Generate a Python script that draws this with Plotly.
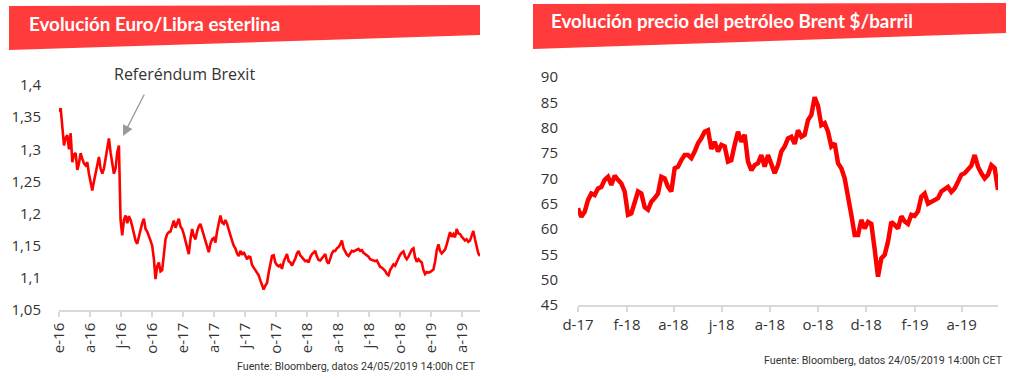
import pandas as pd
import plotly.graph_objects as go

# ---------------- DATA ----------------
# Left chart: Euro / Libra esterlina (GBP in EUR), Jan-2016 .. 24-May-2019
eurgbp_start = "2016-01-01"
eurgbp_end = "2019-05-24"
eurgbp_values = [
    1.358, 1.364, 1.335, 1.306, 1.318, 1.322, 1.300, 1.325, 1.280, 1.292,
    1.294, 1.268, 1.278, 1.294, 1.285, 1.278, 1.275, 1.280, 1.262, 1.248,
    1.236, 1.250, 1.262, 1.275, 1.288, 1.270, 1.262, 1.270, 1.285, 1.305,
    1.317, 1.295, 1.280, 1.262, 1.270, 1.295, 1.306, 1.190, 1.166, 1.190,
    1.197, 1.185, 1.196, 1.190, 1.180, 1.170, 1.158, 1.153, 1.165, 1.178,
    1.185, 1.192, 1.176, 1.172, 1.163, 1.158, 1.150, 1.130, 1.098, 1.118,
    1.124, 1.110, 1.112, 1.140, 1.160, 1.168, 1.171, 1.172, 1.182, 1.189,
    1.178, 1.186, 1.192, 1.180, 1.176, 1.168, 1.158, 1.146, 1.137, 1.160,
    1.176, 1.165, 1.160, 1.172, 1.180, 1.184, 1.175, 1.168, 1.156, 1.147,
    1.140, 1.153, 1.160, 1.162, 1.155, 1.172, 1.185, 1.197, 1.186, 1.184,
    1.190, 1.184, 1.175, 1.164, 1.158, 1.150, 1.146, 1.138, 1.134, 1.142,
    1.136, 1.140, 1.133, 1.129, 1.133, 1.132, 1.120, 1.116, 1.112, 1.108,
    1.104, 1.096, 1.088, 1.082, 1.088, 1.092, 1.108, 1.122, 1.134, 1.135,
    1.124, 1.120, 1.118, 1.120, 1.114, 1.125, 1.132, 1.137, 1.126, 1.124,
    1.119, 1.124, 1.130, 1.138, 1.142, 1.135, 1.132, 1.128, 1.126, 1.127,
    1.124, 1.132, 1.137, 1.139, 1.142, 1.133, 1.128, 1.127, 1.131, 1.135,
    1.137, 1.126, 1.122, 1.130, 1.138, 1.142, 1.142, 1.146, 1.148, 1.152,
    1.158, 1.146, 1.141, 1.136, 1.134, 1.139, 1.142, 1.141, 1.142, 1.144,
    1.145, 1.142, 1.143, 1.139, 1.137, 1.135, 1.133, 1.129, 1.128, 1.126,
    1.126, 1.127, 1.122, 1.117, 1.116, 1.114, 1.111, 1.106, 1.104, 1.112,
    1.117, 1.121, 1.119, 1.125, 1.131, 1.136, 1.139, 1.141, 1.133, 1.129,
    1.133, 1.139, 1.144, 1.146, 1.132, 1.125, 1.129, 1.126, 1.124, 1.112,
    1.106, 1.109, 1.108, 1.109, 1.111, 1.113, 1.125, 1.143, 1.152, 1.142,
    1.138, 1.141, 1.144, 1.152, 1.163, 1.171, 1.164, 1.168, 1.163, 1.176,
    1.169, 1.168, 1.164, 1.160, 1.158, 1.160, 1.156, 1.158, 1.166, 1.173,
    1.160, 1.148, 1.138, 1.134,
]
eurgbp_tickdates = ["2016-01-01", "2016-04-01", "2016-07-01", "2016-10-01",
                    "2017-01-01", "2017-04-01", "2017-07-01", "2017-10-01",
                    "2018-01-01", "2018-04-01", "2018-07-01", "2018-10-01",
                    "2019-01-01", "2019-04-01"]
eurgbp_ticklabels = ["e-16", "a-16", "j-16", "o-16", "e-17", "a-17", "j-17",
                     "o-17", "e-18", "a-18", "j-18", "o-18", "e-19", "a-19"]
eurgbp_yticks = [1.05, 1.1, 1.15, 1.2, 1.25, 1.3, 1.35, 1.4]
eurgbp_yticklabels = ["1,05", "1,1", "1,15", "1,2", "1,25", "1,3", "1,35", "1,4"]

# Right chart: Brent $/barril, Dec-2017 .. May-2019
brent_start = "2017-12-01"
brent_end = "2019-05-17"
brent_values = [
    64.1, 62.4, 63.4, 65.7, 67.0, 66.7, 68.0, 68.3, 69.7, 70.3,
    68.7, 70.5, 69.7, 69.0, 67.4, 62.8, 63.1, 65.1, 67.4, 67.0,
    64.3, 63.8, 65.4, 66.1, 67.0, 70.3, 70.0, 68.3, 67.4, 72.0,
    72.3, 73.6, 74.6, 74.6, 74.0, 75.3, 76.9, 77.9, 79.2, 79.5,
    75.8, 77.2, 75.3, 76.6, 76.3, 73.3, 73.6, 76.6, 79.2, 77.2,
    78.6, 73.3, 71.6, 72.6, 73.0, 74.6, 72.3, 74.6, 72.6, 71.0,
    72.6, 75.3, 76.3, 77.9, 78.2, 76.8, 79.5, 78.2, 78.6, 81.5,
    82.5, 86.0, 84.3, 80.5, 80.9, 79.2, 76.3, 76.9, 73.0, 72.0,
    70.0, 65.7, 62.8, 58.8, 58.8, 61.8, 60.1, 61.4, 61.0, 56.0,
    50.6, 54.2, 54.9, 57.5, 61.4, 60.8, 60.1, 62.5, 61.5, 61.0,
    62.8, 62.6, 63.5, 66.4, 67.0, 65.0, 65.3, 65.8, 66.1, 67.4,
    67.8, 68.3, 67.3, 68.0, 69.3, 70.7, 71.0, 71.6, 72.5, 74.6,
    72.3, 71.0, 70.0, 70.7, 72.6, 72.0, 67.7,
]
brent_tickdates = ["2017-12-01", "2018-02-01", "2018-04-01", "2018-06-01",
                   "2018-08-01", "2018-10-01", "2018-12-01", "2019-02-01",
                   "2019-04-01"]
brent_ticklabels = ["d-17", "f-18", "a-18", "j-18", "a-18", "o-18", "d-18",
                    "f-19", "a-19"]
brent_yticks = [45, 50, 55, 60, 65, 70, 75, 80, 85, 90]

title_left = "Evolución Euro/Libra esterlina"
title_right = "Evolución precio del petróleo Brent $/barril"
source_text = "Fuente: Bloomberg, datos 24/05/2019 14:00h CET"
event_text = "Referéndum Brexit"

# ---------------- FIGURE ----------------
W, H = 1024, 380
def px(x):
    return x / W
def py(y):
    return 1 - y / H

eurgbp_dates = pd.date_range(eurgbp_start, eurgbp_end, periods=len(eurgbp_values))
brent_dates = pd.date_range(brent_start, brent_end, periods=len(brent_values))

RED = "#FF0000"
BANNER = "#FF3B3B"
AXIS = "#D9D9D9"
TXT = "#333333"
FONT = "Open Sans"

fig = go.Figure()
fig.add_trace(go.Scatter(x=eurgbp_dates, y=eurgbp_values, mode="lines",
                         line=dict(color=RED, width=2.6), xaxis="x", yaxis="y",
                         hoverinfo="x+y"))
fig.add_trace(go.Scatter(x=brent_dates, y=brent_values, mode="lines",
                         line=dict(color=RED, width=4.5), xaxis="x2", yaxis="y2",
                         hoverinfo="x+y"))

tickfont = dict(family=FONT, size=15, color=TXT)

fig.update_layout(
    width=W, height=H, autosize=False,
    margin=dict(l=0, r=0, t=0, b=0, pad=0, autoexpand=False),
    paper_bgcolor="white", plot_bgcolor="white",
    showlegend=False,
    xaxis=dict(domain=[px(59), px(480)], anchor="y", type="date",
               range=[eurgbp_start, eurgbp_end], automargin=False,
               tickvals=eurgbp_tickdates, ticktext=eurgbp_ticklabels,
               tickangle=-90, tickfont=tickfont,
               showline=True, linecolor=AXIS, linewidth=1.5,
               ticks="outside", ticklen=5, tickcolor=AXIS, tickwidth=1.5,
               showgrid=False, zeroline=False),
    yaxis=dict(domain=[py(310), py(85)], anchor="x", automargin=False,
               range=[1.05, 1.4], tickvals=eurgbp_yticks,
               ticktext=eurgbp_yticklabels, tickfont=tickfont,
               showline=False, showgrid=False, zeroline=False,
               ticks="outside", ticklen=14, tickcolor="rgba(0,0,0,0)"),
    xaxis2=dict(domain=[px(578), px(998)], anchor="y2", type="date",
                range=[brent_start, brent_end], automargin=False,
                tickvals=brent_tickdates, ticktext=brent_ticklabels,
                tickangle=0, tickfont=tickfont,
                showline=True, linecolor=AXIS, linewidth=1.5,
                ticks="outside", ticklen=5, tickcolor=AXIS, tickwidth=1.5,
                showgrid=False, zeroline=False),
    yaxis2=dict(domain=[py(305), py(77)], anchor="x2", automargin=False,
                range=[45, 90], tickvals=brent_yticks, tickfont=tickfont,
                showline=False, showgrid=False, zeroline=False,
                ticks="outside", ticklen=16, tickcolor="rgba(0,0,0,0)"),
)

def banner(pts):
    path = "M " + " L ".join(f"{px(x)},{py(y)}" for x, y in pts) + " Z"
    return dict(type="path", xref="paper", yref="paper", path=path,
                fillcolor=BANNER, line=dict(width=0), layer="below")

fig.update_layout(shapes=[
    banner([(9, 6), (480, 5), (480, 35), (9, 50)]),
    banner([(533, 4), (1006, 3), (1006, 33), (533, 49)]),
])

ann = [
    dict(text=f"<b>{title_left}</b>", x=px(27), y=py(24), xref="paper", yref="paper",
         xanchor="left", yanchor="middle", showarrow=False,
         font=dict(family="Lato", size=18.8, color="white")),
    dict(text=f"<b>{title_right}</b>", x=px(549), y=py(21), xref="paper", yref="paper",
         xanchor="left", yanchor="middle", showarrow=False,
         font=dict(family="Lato", size=18.8, color="white")),
    dict(text=source_text, x=px(478), y=py(366), xref="paper", yref="paper",
         xanchor="right", yanchor="middle", showarrow=False,
         font=dict(family="Roboto", size=10.7, color=TXT)),
    dict(text=source_text, x=px(1005), y=py(360), xref="paper", yref="paper",
         xanchor="right", yanchor="middle", showarrow=False,
         font=dict(family="Roboto", size=10.7, color=TXT)),
    dict(text=event_text, x=px(112), y=py(74), xref="paper", yref="paper",
         xanchor="left", yanchor="middle", showarrow=False,
         font=dict(family=FONT, size=16, color=TXT)),
    dict(text="", x=px(123), y=py(136), xref="paper", yref="paper",
         showarrow=True, ax=22, ay=-43, arrowhead=2, arrowsize=1.6,
         arrowwidth=1.3, arrowcolor="#999999", standoff=0),
]
fig.update_layout(annotations=ann)

fig.write_html("out.html",
               config={"displayModeBar": False},
               post_script="document.body.style.margin='0px';document.body.style.padding='0px';")
